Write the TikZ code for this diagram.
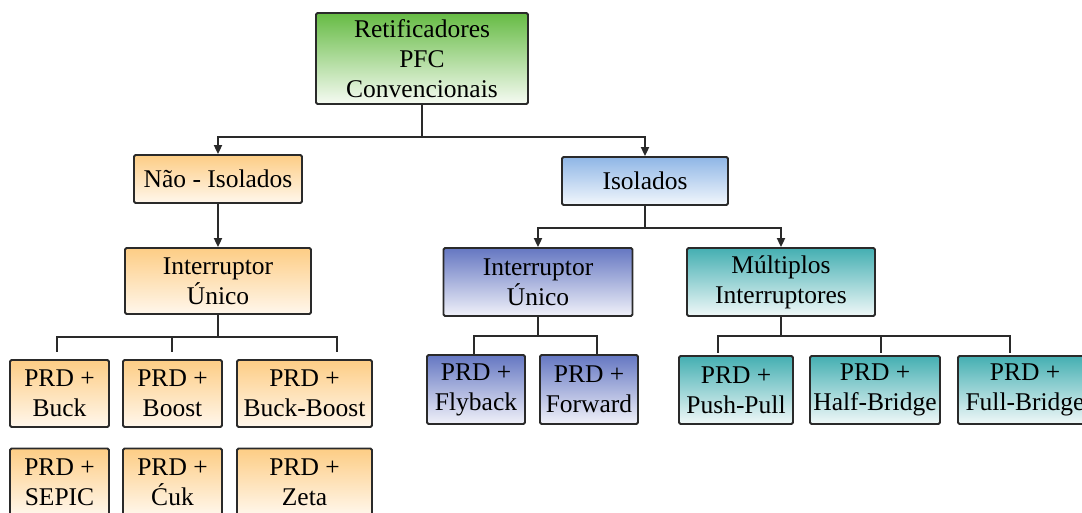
\documentclass[tikz,border=0pt]{standalone}
\usepackage{fontspec}
\setmainfont{Liberation Serif}
\newfontfamily\tnrfont{Liberation Serif}
\usetikzlibrary{arrows.meta}
\definecolor{greenT}{HTML}{66BB44}
\definecolor{greenB}{HTML}{F6FBF3}
\definecolor{orangeT}{HTML}{FDCD85}
\definecolor{orangeB}{HTML}{FFF7EC}
\definecolor{blueT}{HTML}{8FB6E6}
\definecolor{blueB}{HTML}{F2F7FC}
\definecolor{purpT}{HTML}{6577C2}
\definecolor{purpB}{HTML}{F0F1F9}
\definecolor{tealT}{HTML}{44AFB2}
\definecolor{tealB}{HTML}{F0F8F8}
\definecolor{lineC}{HTML}{2A2A2A}
\tikzset{
  box/.style={draw=lineC, line width=1.8pt, rounded corners=1.5pt, align=center,
    inner sep=0pt, font=\tnrfont\fontsize{25.5}{30}\selectfont},
  gbox/.style={box, top color=greenT, bottom color=greenB},
  obox/.style={box, top color=orangeT, bottom color=orangeB},
  bbox/.style={box, top color=blueT, bottom color=blueB},
  pbox/.style={box, top color=purpT, bottom color=purpB},
  tbox/.style={box, top color=tealT, bottom color=tealB},
  conn/.style={draw=lineC, line width=1.8pt},
  arr/.style={conn, -{Triangle[length=9pt,width=8pt]}},
}
\begin{document}
\begin{tikzpicture}[x=1pt,y=-1pt]
\useasboundingbox (0,0) rectangle (1082,512);
\clip (0,0) rectangle (1082,512);
% nodes
\node[gbox, minimum width=212, minimum height=91] (root) at (422,58.5) {Retificadores\\PFC\\Convencionais};
\node[obox, minimum width=168, minimum height=48] (nao) at (218,179) {Não - Isolados};
\node[bbox, minimum width=166, minimum height=48] (iso) at (645,181) {Isolados};
\node[obox, minimum width=186, minimum height=66] (iu1) at (218,281) {Interruptor\\Único};
\node[pbox, minimum width=189, minimum height=68] (iu2) at (538,282) {Interruptor\\Único};
\node[tbox, minimum width=188, minimum height=68] (mult) at (781,282) {Múltiplos\\Interruptores};
\node[obox, minimum width=99, minimum height=67] (buck) at (59.5,393.5) {PRD +\\Buck};
\node[obox, minimum width=99, minimum height=67] (boost) at (172.5,393.5) {PRD +\\Boost};
\node[obox, minimum width=135, minimum height=67] (bb) at (304.5,393.5) {PRD +\\Buck-Boost};
\node[obox, minimum width=99, minimum height=67] (sepic) at (59.5,482) {PRD +\\SEPIC};
\node[obox, minimum width=99, minimum height=67] (cuk) at (172.5,482) {PRD +\\Ćuk};
\node[obox, minimum width=135, minimum height=67] (zeta) at (304.5,482) {PRD +\\Zeta};
\node[pbox, minimum width=98, minimum height=69] (fly) at (476,389.5) {PRD +\\Flyback};
\node[pbox, minimum width=98, minimum height=69] (fwd) at (589,389.5) {PRD +\\Forward};
\node[tbox, minimum width=114, minimum height=68] (pp) at (736,390) {PRD +\\Push-Pull};
\node[tbox, minimum width=130, minimum height=68] (hb) at (875,390) {PRD +\\Half-Bridge};
\node[tbox, minimum width=134, minimum height=68] (fb) at (1025,390) {PRD +\\Full-Bridge};
% junctions
\coordinate (j1) at (422,137);
\coordinate (j2) at (645,228);
\coordinate (j3) at (218,337);
\coordinate (d1) at (57,352);
\coordinate (d2) at (172,352);
\coordinate (d3) at (337,352);
\coordinate (j4) at (538,336);
\coordinate (e1) at (474,354);
\coordinate (e2) at (597,354);
\coordinate (j5) at (781,336);
\coordinate (f1) at (718,353);
\coordinate (f2) at (881,353);
\coordinate (f3) at (1010,353);
% connectors
\draw[conn] (root.south) -- (j1);
\draw[arr] (j1) -| (nao.north);
\draw[arr] (j1) -| (iso.north);
\draw[arr] (nao.south) -- (iu1.north);
\draw[conn] (iso.south) -- (j2);
\draw[arr] (j2) -| (iu2.north);
\draw[arr] (j2) -| (mult.north);
\draw[conn] (iu1.south) -- (j3);
\draw[conn] (j3) -| (d1);
\draw[conn] (j3) -| (d2);
\draw[conn] (j3) -| (d3);
\draw[conn] (iu2.south) -- (j4);
\draw[conn] (j4) -| (e1);
\draw[conn] (j4) -| (e2);
\draw[conn] (mult.south) -- (j5);
\draw[conn] (j5) -| (f1);
\draw[conn] (j5) -| (f2);
\draw[conn] (j5) -| (f3);
\end{tikzpicture}
\end{document}
